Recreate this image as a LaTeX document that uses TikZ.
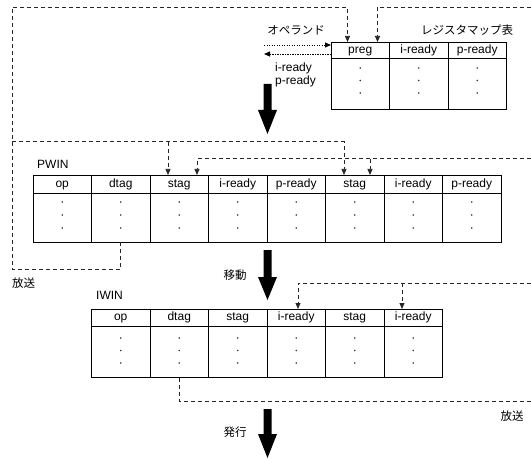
\documentclass[tikz,border=0pt]{standalone}
\usepackage{fontspec}
\setmainfont{Liberation Sans}
\newfontfamily\jpfont{Noto Sans CJK JP}
\usetikzlibrary{arrows.meta,calc}
\newcommand\lblfont{\fontsize{12}{13.5}\selectfont}
\newcommand\jplblfont{\jpfont\fontsize{11.5}{13.5}\selectfont}
\begin{document}
\begin{tikzpicture}[x=1pt,y=-1pt,
  hcell/.style={draw, line width=0.9pt, anchor=north west, minimum width=58.5pt, inner sep=0pt, outer sep=0pt, text height=8.6pt, text depth=2.4pt, font=\lblfont},
  bcell/.style={draw, line width=0.9pt, anchor=north west, minimum width=58.5pt, inner sep=0pt, outer sep=0pt},
  dsh/.style={draw=black!85, line width=0.75pt, dash pattern=on 4pt off 3pt},
  dtd/.style={draw=black, line width=0.8pt, dash pattern=on 1.2pt off 1.3pt},
  tip/.style={-{Triangle[length=6pt,width=5pt]}},
  lbl/.style={font=\lblfont, inner sep=0pt},
  jlbl/.style={font=\jplblfont, inner sep=0pt},
  dotc/.style={fill=black!80}
]
\useasboundingbox (0,0) rectangle (531,460);

% register map table
\foreach [count=\i] \t in {preg,i-ready,p-ready} {
  \node[hcell, minimum height=16.5pt] (rm\i) at ({331+58.5*(\i-1)},42) {\t};
  \node[bcell, minimum height=51pt] (rmb\i) at ({331+58.5*(\i-1)},58.5) {};
  \foreach \d in {-12.5,0,12.5} \fill[dotc] ($(rmb\i.center)+(0,\d-3.5)$) circle (0.85pt);
}
% PWIN
\foreach [count=\i] \t in {op,dtag,stag,i-ready,p-ready,stag,i-ready,p-ready} {
  \node[hcell, minimum height=18pt] (pw\i) at ({33+58.5*(\i-1)},175) {\t};
  \node[bcell, minimum height=49pt] (pwb\i) at ({33+58.5*(\i-1)},193) {};
  \foreach \d in {-13,0,13} \fill[dotc] ($(pwb\i.center)+(0,\d-2.5)$) circle (0.85pt);
}
% IWIN
\foreach [count=\i] \t in {op,dtag,stag,i-ready,stag,i-ready} {
  \node[hcell, minimum height=17pt] (iw\i) at ({91.5+58.5*(\i-1)},309) {\t};
  \node[bcell, minimum height=51.5pt] (iwb\i) at ({91.5+58.5*(\i-1)},326) {};
  \foreach \d in {-12.5,0,12.5} \fill[dotc] ($(iwb\i.center)+(0,\d-1.3)$) circle (0.85pt);
}

% labels
\node[jlbl] (opl) at (296,30) {オペランド};
\node[jlbl] (rmt) at (467,30) {レジスタマップ表};
\node[lbl, anchor=west] (ir) at (275,68) {i-ready};
\node[lbl, anchor=west] (pr) at (275,81.5) {p-ready};
\node[lbl, anchor=west] (pwin) at (37,164) {PWIN};
\node[lbl, anchor=west] (iwin) at (96,295) {IWIN};
\node[jlbl, anchor=west] (hs1) at (12,283) {放送};
\node[jlbl] (mv) at (235,275) {移動};
\node[jlbl] (hs2) at (512,416) {放送};
\node[jlbl] (hk) at (235,432) {発行};

% operand dotted arrows
\coordinate (o1) at (264,45);
\coordinate (o2) at (264,54);
\draw[dtd, tip] (o1) -- (o1 -| rm1.west);
\draw[dtd, tip] (o2 -| rm1.west) -- (o2);

% left broadcast loop
\coordinate (LB) at (12,269);
\coordinate (LT) at (12,7);
\coordinate (LM) at (12,141.7);
\coordinate (t1) at ($(rm1.north west)+(16.5,0)$);
\coordinate (t2) at ($(rm1.north west)+(46.5,0)$);
\coordinate (a3) at ($(pw3.north west)+(18,0)$);
\coordinate (a6) at ($(pw6.north west)+(18.5,0)$);
\coordinate (a3b) at ($(pw3.north west)+(47,0)$);
\coordinate (a6b) at ($(pw6.north west)+(44.5,0)$);
\coordinate (b4) at ($(iw4.north west)+(31,0)$);
\coordinate (b6) at ($(iw6.north west)+(18,0)$);
\draw[dsh, tip] (pwb2.south) |- (LB) -- (LT) -| (t1);
\draw[dsh, tip] (LM) -| (a6);
\draw[dsh, tip] (a3 |- LM) -- (a3);

% right broadcast lines
\coordinate (R1) at (531,7);
\coordinate (R2) at (531,158.7);
\coordinate (R3) at (531,283);
\coordinate (R4) at (531,401);
\draw[dsh, tip] (R1) -| (t2);
\draw[dsh, tip] (R2) -| (a3b);
\draw[dsh, tip] (a6b |- R2) -- (a6b);
\draw[dsh, tip] (R3) -| (b4);
\draw[dsh, tip] (b6 |- R3) -- (b6);
\draw[dsh] (iwb2.south) |- (R4);

% big arrows
\foreach \ya/\yb/\yc in {84/110/134, 250/277/300, 409/434/458} {
  \fill (263.5,\ya) -- (271.5,\ya) -- (271.5,\yb) -- (277,\yb) -- (267.5,\yc) -- (258,\yb) -- (263.5,\yb) -- cycle;
}
\end{tikzpicture}
\end{document}
